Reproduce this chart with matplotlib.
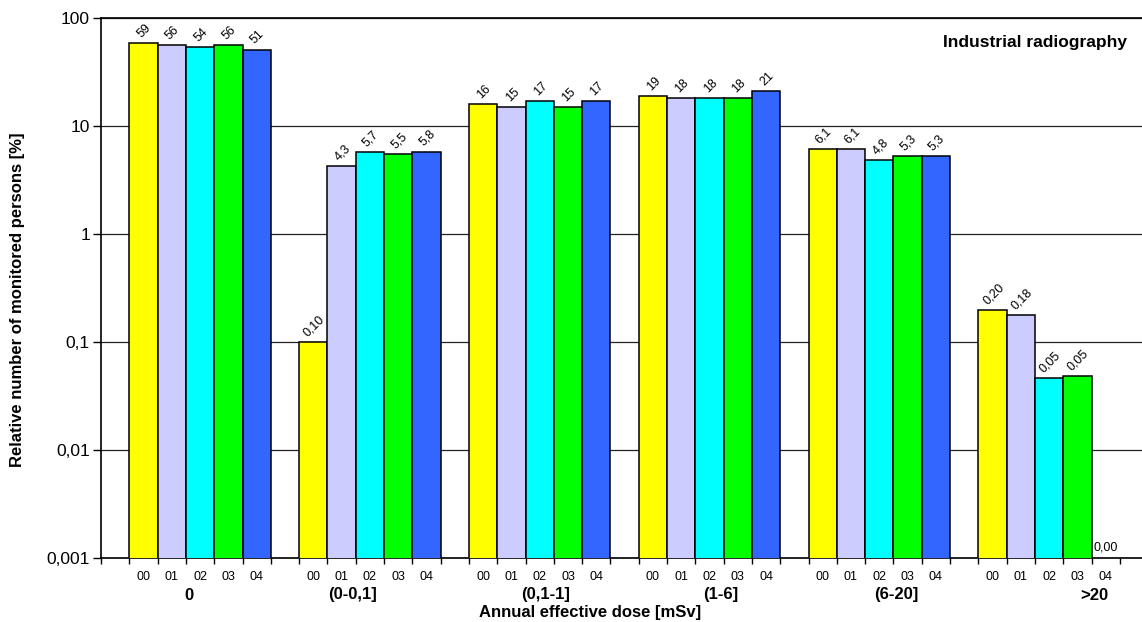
import matplotlib

matplotlib.use("Agg")
import matplotlib.pyplot as plt
from matplotlib.ticker import FixedLocator, FuncFormatter, NullLocator

plt.rcParams["font.family"] = ["Liberation Sans", "DejaVu Sans"]

# data (relative number of monitored persons, %)
years = ["00", "01", "02", "03", "04"]
dose_groups = ["0", "(0-0,1]", "(0,1-1]", "(1-6]", "(6-20]", ">20"]
share_0 = [59, 56, 54, 56, 51]
share_0_01 = [0.10, 4.3, 5.7, 5.5, 5.8]
share_01_1 = [16, 15, 17, 15, 17]
share_1_6 = [19, 18, 18, 18, 21]
share_6_20 = [6.1, 6.1, 4.8, 5.3, 5.3]
share_20 = [0.198, 0.179, 0.046, 0.048, 0.0]
shares = [share_0, share_0_01, share_01_1, share_1_6, share_6_20, share_20]

year_colors = ["#FFFF00", "#CCCCFF", "#00FFFF", "#00FF00", "#3366FF"]
# group label centres in slot units
group_label_x = [3.1, 8.9, 15.7, 21.9, 28.1, 35.1]

slot_px = 28.3
fig = plt.figure(figsize=(11.42, 6.22), dpi=100)
ax = fig.add_axes([101 / 1142, 64 / 622, 1041 / 1142, 540 / 622])
ax.set_yscale("log")
ax.set_ylim(0.001, 100)
ax.set_xlim(0, 1041 / slot_px)


def fmt_value(v):
    if v >= 10:
        s = f"{v:.0f}"
    elif v >= 1:
        s = f"{v:.1f}"
    else:
        s = f"{v:.2f}"
    return s.replace(".", ",")


for g, vals in enumerate(shares):
    for k, v in enumerate(vals):
        x = 6 * g + 1 + k + 0.5
        if v > 0:
            ax.bar(x, v, width=1.0, color=year_colors[k], edgecolor="black",
                   linewidth=1.1, zorder=3)
            ax.annotate(fmt_value(v), xy=(x, v), xytext=(1, 3),
                        textcoords="offset pixels", ha="center", va="bottom",
                        rotation=45, fontsize=9, zorder=4)
        else:
            ax.annotate(fmt_value(v), xy=(x, 0.001), xytext=(0, 4),
                        textcoords="offset pixels", ha="center", va="bottom",
                        fontsize=9, zorder=4)
        ax.annotate(years[k], xy=(x, 0), xycoords=ax.get_xaxis_transform(),
                    xytext=(0, -19), textcoords="offset pixels",
                    ha="center", va="center", fontsize=9)
    ax.annotate(dose_groups[g], xy=(group_label_x[g], 0),
                xycoords=ax.get_xaxis_transform(), xytext=(0, -37),
                textcoords="offset pixels", ha="center", va="center",
                fontsize=12, fontweight="bold")

ax.yaxis.set_major_locator(FixedLocator([0.001, 0.01, 0.1, 1, 10, 100]))
ax.yaxis.set_minor_locator(NullLocator())
ax.yaxis.set_major_formatter(
    FuncFormatter(lambda v, p: f"{v:g}".replace(".", ",")))
ax.tick_params(axis="y", length=6, width=1, labelsize=12.5, pad=2)
ax.set_xticks(range(0, 37))
ax.set_xticklabels([])
ax.tick_params(axis="x", length=4, width=1)
ax.grid(axis="y", color="#222222", linewidth=0.9, zorder=0)

ax.spines["right"].set_visible(False)
for side in ["left", "top", "bottom"]:
    ax.spines[side].set_linewidth(1.2)

fig.text(1127 / 1142, 1 - 43 / 622, "Industrial radiography",
         ha="right", va="center", fontsize=12.5, fontweight="bold")
fig.text(590 / 1142, 1 - 612 / 622, "Annual effective dose [mSv]",
         ha="center", va="center", fontsize=12, fontweight="bold")
fig.text(18 / 1142, 1 - 300 / 622, "Relative number of monitored persons [%]",
         ha="center", va="center", rotation=90, fontsize=12, fontweight="bold")

fig.savefig("out.png", dpi=100)
